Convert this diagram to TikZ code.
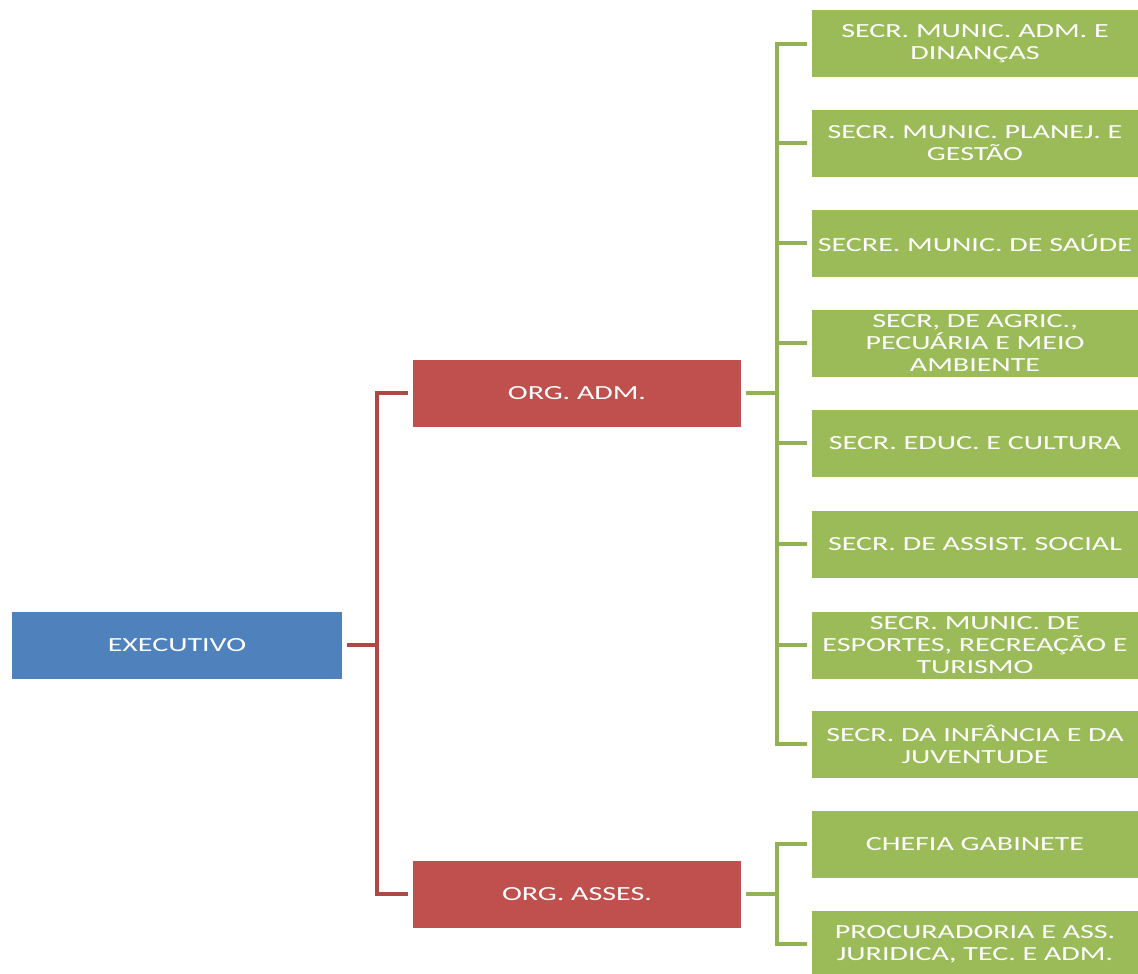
\documentclass[tikz,border=0pt]{standalone}
\usepackage{fontspec}
\setmainfont{Carlito}[FakeStretch=1.5]

\definecolor{execblue}{HTML}{4F81BD}
\definecolor{orgred}{HTML}{C0504D}
\definecolor{secgreen}{HTML}{9BBB59}

\tikzset{
  chartbox/.style={rectangle, minimum height=67pt, inner sep=0pt, outer sep=5pt,
    text=white, align=center, font=\fontsize{20}{22}\selectfont},
  execbox/.style={chartbox, fill=execblue, minimum width=330pt},
  orgbox/.style={chartbox, fill=orgred, minimum width=328pt},
  secbox/.style={chartbox, fill=secgreen, minimum width=326pt},
  redlink/.style={draw=orgred!90!black, line width=4pt},
  greenlink/.style={draw=secgreen!95!black, line width=4pt},
}

\begin{document}
\begin{tikzpicture}[x=1pt,y=-1pt]
  \useasboundingbox (0,0) rectangle (1138,974);

  \node[execbox] (exec) at (177,645) {EXECUTIVO};

  \node[orgbox] (adm) at (577,393) {ORG. ADM.};
  \node[orgbox] (asses) at (577,894) {ORG. ASSES.};

  \node[secbox] (adminfin) at (975,44) {SECR. MUNIC. ADM. E\\DINANÇAS};
  \node[secbox] (planej) at (975,143) {SECR. MUNIC. PLANEJ. E\\GESTÃO};
  \node[secbox] (saude) at (975,243) {SECRE. MUNIC. DE SAÚDE};
  \node[secbox] (agric) at (975,343) {SECR, DE AGRIC.,\\PECUÁRIA E MEIO\\AMBIENTE};
  \node[secbox] (educ) at (975,443) {SECR. EDUC. E CULTURA};
  \node[secbox] (assist) at (975,544) {SECR. DE ASSIST. SOCIAL};
  \node[secbox] (esporte) at (975,645) {SECR. MUNIC. DE\\ESPORTES, RECREAÇÃO E\\TURISMO};
  \node[secbox] (infancia) at (975,744) {SECR. DA INFÂNCIA E DA\\JUVENTUDE};
  \node[secbox] (gabinete) at (975,844) {CHEFIA GABINETE};
  \node[secbox] (procur) at (975,944) {PROCURADORIA E ASS.\\JURIDICA, TEC. E ADM.};

  \coordinate (redbus) at (377,645);
  \coordinate (admbus) at (777,393);
  \coordinate (assbus) at (777,894);

  \draw[redlink] (exec.east) -- (redbus);
  \draw[redlink] (adm.west) -| (redbus) |- (asses.west);

  \draw[greenlink] (adm.east) -- (admbus);
  \draw[greenlink] (adminfin.west) -| (admbus) |- (infancia.west);
  \draw[greenlink] (planej.west) -- (planej.west -| admbus);
  \draw[greenlink] (saude.west) -- (saude.west -| admbus);
  \draw[greenlink] (agric.west) -- (agric.west -| admbus);
  \draw[greenlink] (educ.west) -- (educ.west -| admbus);
  \draw[greenlink] (assist.west) -- (assist.west -| admbus);
  \draw[greenlink] (esporte.west) -- (esporte.west -| admbus);

  \draw[greenlink] (asses.east) -- (assbus);
  \draw[greenlink] (gabinete.west) -| (assbus) |- (procur.west);
\end{tikzpicture}
\end{document}
